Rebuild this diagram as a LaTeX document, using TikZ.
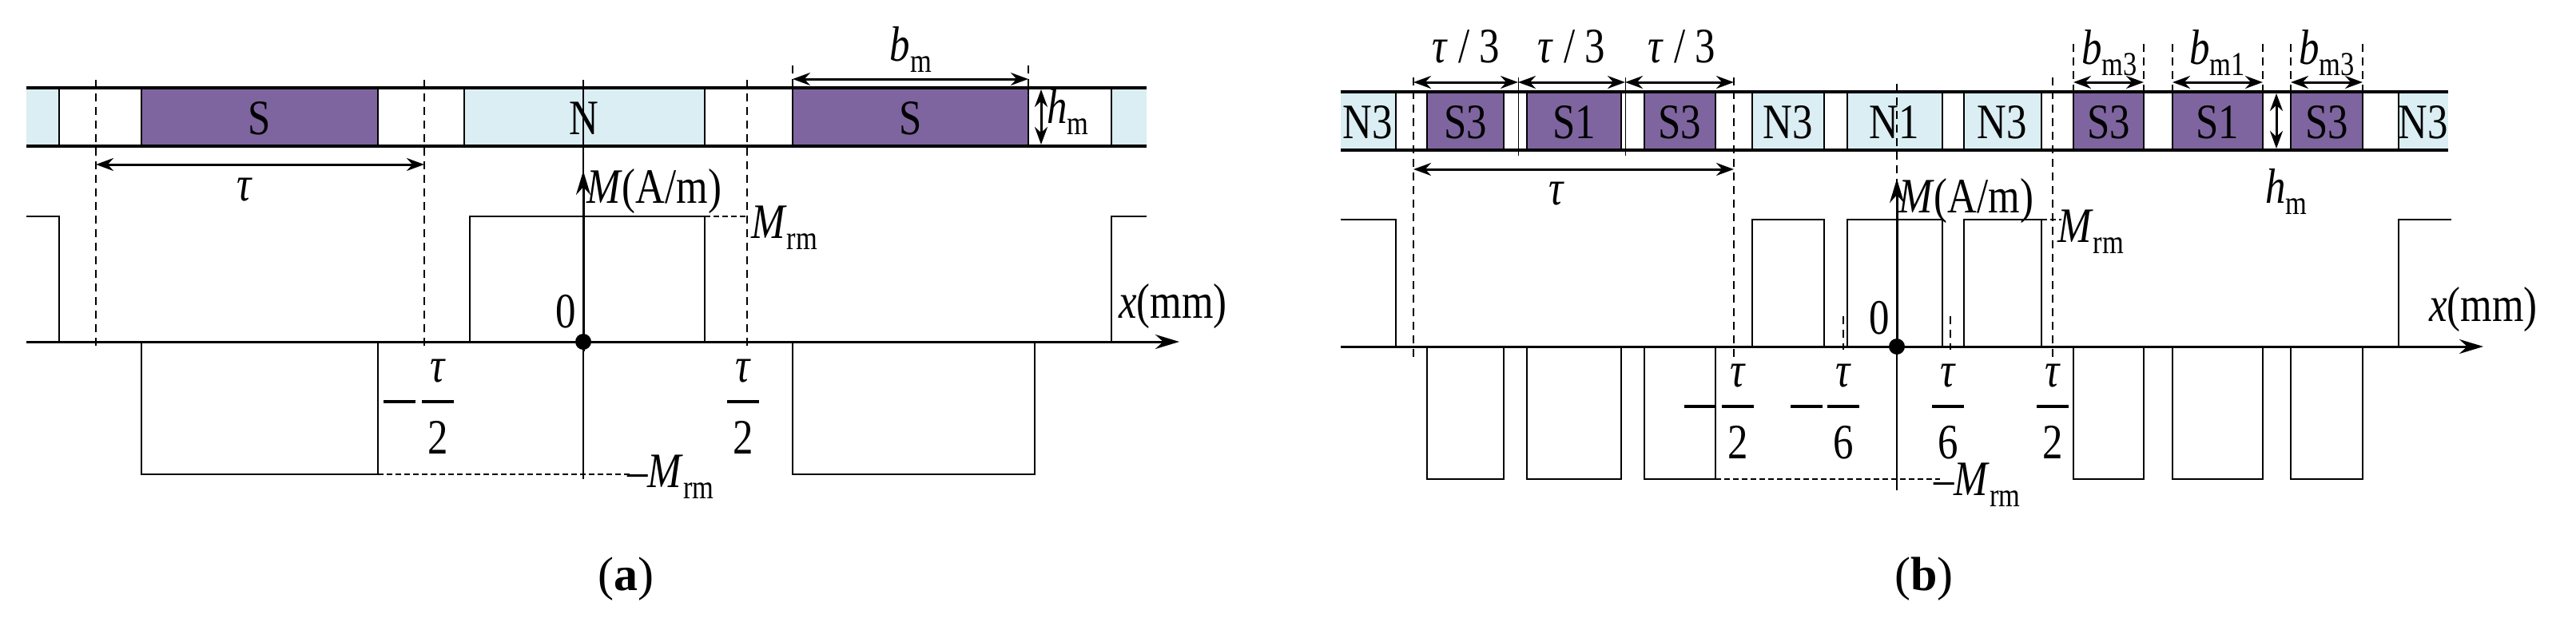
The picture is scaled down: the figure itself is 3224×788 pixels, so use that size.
\documentclass[tikz,border=0pt]{standalone}
\usepackage{fontspec}
\setmainfont{Liberation Serif}
\usetikzlibrary{arrows.meta}
\definecolor{pm}{HTML}{7F659F}
\definecolor{lb}{HTML}{DAEEF3}
\newcommand{\sbt}[1]{\raisebox{-14pt}{\fontsize{42}{44}\selectfont #1}}
\newcommand{\tu}{\textit{τ}}
% fraction: x, y of bar, denominator, name
\newcommand{\fracAt}[4]{%
  \node[lbl] (#4n) at (#1,#2-38) {\tu};
  \draw[line width=3.5pt] (#1-20,#2) -- (#1+20,#2);
  \node[lbl] (#4d) at (#1,#2+45) {#3};}
\newcommand{\minusAt}[2]{\draw[line width=3.5pt] (#1-20,#2) -- (#1+20,#2);}
\begin{document}
\begin{tikzpicture}[x=1pt,y=-1pt,
  lbl/.style={inner sep=0pt,font=\fontsize{62}{66}\selectfont,xscale=0.82},
  wave/.style={line width=2pt},
  edge/.style={line width=4pt},
  dsh/.style={line width=1.5pt,dash pattern=on 10pt off 7pt},
  dsl/.style={line width=1.5pt,dash pattern=on 7pt off 4pt},
  dim/.style={line width=3pt,{Stealth[length=22pt,width=16pt]}-{Stealth[length=22pt,width=16pt]}},
  ax/.style={line width=3pt,-{Stealth[length=30pt,width=18pt]}}]
\useasboundingbox (0,0) rectangle (3224,788);
% ===== panel (a) =====
\foreach \a/\b/\c in {33/74/lb,74/177/white,177/473/pm,473/581/white,581/882/lb,882/992/white,992/1287/pm,1287/1391/white,1391/1435/lb}
  \fill[\c] (\a,110) rectangle (\b,183);
\foreach \a in {74,177,473,581,882,992,1287,1391} \draw[line width=1.5pt] (\a,110) -- (\a,183);
\draw[edge] (33,110) -- (1435,110); \draw[edge] (33,183) -- (1435,183);
\node[lbl] (aS1) at (325,148) {S};
\node[lbl] (aN) at (731,148) {N};
\node[lbl] (aS2) at (1140,148) {S};
\foreach \x in {120,531,935} \draw[dsh] (\x,100) -- (\x,440);
\draw[dsh] (992,82) -- (992,110); \draw[dsh] (1287,82) -- (1287,110);
\draw[dim] (992,99) -- (1287,99);
\node[lbl] (abm) at (1140,62) {\textit{b}\sbt{m}};
\draw[dim] (1303,112) -- (1303,181);
\node[lbl,anchor=west] (ahm) at (1310,140) {\textit{h}\sbt{m}};
\draw[dim] (120,206) -- (531,206);
\node[lbl] (atau) at (306,238) {\tu};
\draw[line width=1.5pt] (730,600) -- (730,100);
\draw[ax] (730,440) -- (730,214);
\node[lbl,anchor=west] (aM) at (734,240) {\textit{M}(A/m)};
\draw[wave] (33,271) -- (74,271) -- (74,428) -- (177,428) -- (177,594) -- (473,594) -- (473,428) -- (588,428) -- (588,271) -- (882,271) -- (882,428) -- (992,428) -- (992,594) -- (1295,594) -- (1295,428) -- (1391,428) -- (1391,271) -- (1435,271);
\draw[ax] (33,428) -- (1476,428);
\node[lbl,anchor=west] (ax) at (1400,384) {\textit{x}(mm)};
\draw[dsl] (882,271) -- (935,271);
\node[lbl,anchor=west] (aMrm) at (940,285) {\textit{M}\sbt{rm}};
\draw[dsl] (473,594) -- (790,594);
\node[lbl,anchor=west] (amMrm) at (785,597) {–\textit{M}\sbt{rm}};
\fill (730,428) circle (10);
\node[lbl] (a0) at (708,390) {0};
\minusAt{500}{503}
\fracAt{548}{503}{2}{fa1}
\fracAt{930}{503}{2}{fa2}
\node[inner sep=0pt,font=\fontsize{60}{64}\selectfont] (capa) at (783,725) {(\textbf{a})};
% ===== panel (b) =====
\foreach \a/\b/\c in {1678/1747/lb,1747/1786/white,1786/1882/pm,1882/1911/white,1911/2029/pm,2029/2058/white,2058/2147/pm,2147/2193/white,2193/2283/lb,2283/2312/white,2312/2431/lb,2431/2458/white,2458/2555/lb,2555/2595/white,2595/2683/pm,2683/2719/white,2719/2832/pm,2832/2867/white,2867/2957/pm,2957/3002/white,3002/3064/lb}
  \fill[\c] (\a,115) rectangle (\b,188);
\foreach \a in {1747,1786,1882,1911,2029,2058,2147,2193,2283,2312,2431,2458,2555,2595,2683,2719,2832,2867,2957,3002} \draw[line width=1.5pt] (\a,115) -- (\a,188);
\draw[edge] (1678,115) -- (3064,115); \draw[edge] (1678,188) -- (3064,188);
\foreach \n/\x in {N3/1712,S3/1834,S1/1970,S3/2102,N3/2238,N1/2371,N3/2506,S3/2639,S1/2775,S3/2912,N3/3033}
  \node[lbl] at (\x,153) {\n};
\foreach \x in {1769,2170,2569} \draw[dsh] (\x,97) -- (\x,447);
\foreach \x in {1900,2034} \draw[line width=1pt] (\x,97) -- (\x,195);
\draw[dsh] (2374,105) -- (2374,230);
\foreach \x in {2595,2683,2719,2832,2867,2957} \draw[dsh] (\x,55) -- (\x,115);
\draw[dim] (1769,103) -- (1900,103);
\draw[dim] (1900,103) -- (2034,103);
\draw[dim] (2034,103) -- (2170,103);
\foreach \x in {1835,1967,2105} \node[lbl] at (\x,58) {\tu\ / 3};
\draw[dim] (2595,103) -- (2683,103);
\draw[dim] (2719,103) -- (2832,103);
\draw[dim] (2867,103) -- (2957,103);
\node[lbl] (bb1) at (2640,66) {\textit{b}\sbt{m3}};
\node[lbl] (bb2) at (2775,66) {\textit{b}\sbt{m1}};
\node[lbl] (bb3) at (2912,66) {\textit{b}\sbt{m3}};
\draw[dim] (2849,117) -- (2849,186);
\node[lbl,anchor=west] (bhm) at (2835,240) {\textit{h}\sbt{m}};
\draw[dim] (1769,212) -- (2170,212);
\node[lbl] (btau) at (1948,243) {\tu};
\draw[line width=1.5pt] (2374,614) -- (2374,230);
\draw[ax] (2374,440) -- (2374,224);
\node[lbl,anchor=west] (bM) at (2376,252) {\textit{M}(A/m)};
\draw[wave] (1678,275) -- (1747,275) -- (1747,434) -- (1786,434) -- (1786,600) -- (1882,600) -- (1882,434) -- (1911,434) -- (1911,600) -- (2029,600) -- (2029,434) -- (2058,434) -- (2058,600) -- (2147,600) -- (2147,434) -- (2193,434) -- (2193,275) -- (2283,275) -- (2283,434) -- (2312,434) -- (2312,275) -- (2431,275) -- (2431,434) -- (2458,434) -- (2458,275) -- (2555,275) -- (2555,434) -- (2595,434) -- (2595,600) -- (2683,600) -- (2683,434) -- (2719,434) -- (2719,600) -- (2832,600) -- (2832,434) -- (2867,434) -- (2867,600) -- (2957,600) -- (2957,434) -- (3002,434) -- (3002,275) -- (3068,275);
\draw[ax] (1678,434) -- (3108,434);
\node[lbl,anchor=west] (bx) at (3040,388) {\textit{x}(mm)};
\foreach \x in {2307,2441} \draw[dsh] (\x,396) -- (\x,438);
\draw[dsl] (2555,275) -- (2580,275);
\node[lbl,anchor=west] (bMrm) at (2575,290) {\textit{M}\sbt{rm}};
\draw[dsl] (2147,600) -- (2428,600);
\node[lbl,anchor=west] (bmMrm) at (2420,607) {–\textit{M}\sbt{rm}};
\fill (2374,434) circle (10);
\node[lbl] (b0) at (2352,398) {0};
\minusAt{2128}{509}
\fracAt{2175}{509}{2}{fb1}
\minusAt{2261}{509}
\fracAt{2307}{509}{6}{fb2}
\fracAt{2438}{509}{6}{fb3}
\fracAt{2569}{509}{2}{fb4}
\node[inner sep=0pt,font=\fontsize{60}{64}\selectfont] (capb) at (2408,725) {(\textbf{b})};
\end{tikzpicture}
\end{document}
